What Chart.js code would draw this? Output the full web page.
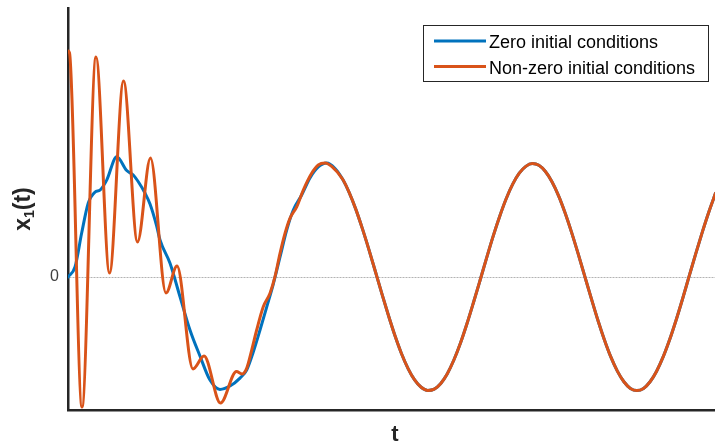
<!DOCTYPE html>
<html>
<head>
<meta charset="utf-8">
<title>x1(t) response</title>
<script src="https://cdn.jsdelivr.net/npm/chart.js@4.4.1/dist/chart.umd.min.js"></script>
<style>
  html, body { margin: 0; padding: 0; background: #ffffff; overflow: hidden; }
  #wrap { width: 722px; height: 443px; }
  canvas { display: block; }
</style>
</head>
<body>
<div id="wrap"><canvas id="plot" width="722" height="443"></canvas></div>
<script>
// Response x1(t) from zero and non-zero initial conditions.
// Start-up part of each run, sampled at its peaks, troughs and bends.
const tZero = [0, 0.107, 0.209, 0.310, 0.413, 0.489, 0.592, 0.745, 0.898, 0.998, 1.075,
  1.177, 1.254, 1.356, 1.407, 1.560, 1.713, 1.865, 2.018, 2.171, 2.324, 2.477, 2.630,
  2.732, 2.833, 2.936, 3.038, 3.139, 3.242, 3.344, 3.445, 3.573, 3.700, 3.827, 3.956,
  4.083];
const xZero = [0, 0.090, 0.397, 0.668, 0.767, 0.785, 0.875, 1.086, 0.961, 0.921, 0.860,
  0.758, 0.659, 0.460, 0.334, 0.124, -0.178, -0.478, -0.713, -0.930, -1.014, -0.984, -0.912,
  -0.839, -0.677, -0.478, -0.271, -0.063, 0.181, 0.424, 0.605, 0.740, 0.894, 0.993, 1.029,
  0.980];

const tNonZero = [0, 0.023, 0.214, 0.428, 0.635, 0.849, 1.063, 1.261, 1.498, 1.667, 1.911,
  2.080, 2.332, 2.576, 2.661, 2.732, 2.809, 2.885, 2.986, 3.089, 3.165, 3.242, 3.318,
  3.394, 3.497, 3.598, 3.726, 3.827, 3.930, 4.032];
const xNonZero = [2.040, 2.022, -1.173, 1.986, 0.036, 1.769, 0.316, 1.074, -0.144, 0.099, -0.830,
  -0.713, -1.137, -0.853, -0.875, -0.824, -0.659, -0.478, -0.268, -0.147, 0.003, 0.214, 0.394,
  0.530, 0.634, 0.785, 0.936, 1.011, 1.029, 0.998];

// Common steady oscillation reached by both runs.
const tSteady = [4.2, 4.3, 4.4, 4.5, 4.6, 4.7, 4.8, 4.9, 5.0, 5.1, 5.2, 5.3, 5.4, 5.5,
  5.6, 5.7, 5.8, 5.9, 6.0, 6.1, 6.2, 6.3, 6.4, 6.5, 6.6, 6.7, 6.8, 6.9, 7.0, 7.1,
  7.2, 7.3, 7.4, 7.5, 7.6, 7.7, 7.8, 7.9, 8.0, 8.1, 8.2, 8.3, 8.4, 8.5, 8.6, 8.7,
  8.8, 8.9, 9.0, 9.1, 9.2, 9.3, 9.4, 9.5, 9.6, 9.7, 9.8, 9.9];
const xSteady = [0.882, 0.762, 0.613, 0.439, 0.250, 0.050, -0.152, -0.347, -0.530, -0.692,
  -0.826, -0.929, -0.995, -1.023, -1.011, -0.960, -0.872, -0.749, -0.598, -0.422, -0.230,
  -0.031, 0.171, 0.367, 0.547, 0.707, 0.838, 0.937, 0.999, 1.024, 1.008, 0.952, 0.860,
  0.735, 0.580, 0.403, 0.211, 0.010, -0.190, -0.385, -0.563, -0.721, -0.849, -0.945,
  -1.005, -1.024, -1.005, -0.945, -0.850, -0.721, -0.564, -0.385, -0.191, 0.012, 0.214,
  0.408, 0.590, 0.755];

const yTicks = [0];
const seriesLabels = ['Zero initial conditions', 'Non-zero initial conditions'];
const seriesColors = ['#0072BD', '#D95319'];

const FONT = "'Liberation Sans', Arial, Helvetica, sans-serif";

function toPoints(ts, xs) {
  return ts.map((t, i) => ({ x: t, y: xs[i] }));
}
const steadyPts = toPoints(tSteady, xSteady);

// Axis titles (with subscript) and the boxed legend in the top-right corner.
const decorations = {
  id: 'decorations',
  afterDraw(chart) {
    const ctx = chart.ctx;
    const area = chart.chartArea;
    ctx.save();
    ctx.fillStyle = '#262626';
    ctx.textBaseline = 'alphabetic';

    // x-axis title
    ctx.font = 'bold 22px ' + FONT;
    ctx.textAlign = 'center';
    ctx.fillText('t', (area.left + area.right) / 2, 441);

    // y-axis title: x with subscript 1, then (t)
    const big = 'bold 23px ' + FONT;
    const small = 'bold 14px ' + FONT;
    ctx.font = big;
    const wx = ctx.measureText('x').width;
    const wt = ctx.measureText('(t)').width;
    ctx.font = small;
    const w1 = ctx.measureText('1').width;
    const total = wx + w1 + wt;
    ctx.translate(23, (area.top + area.bottom) / 2);
    ctx.rotate(-Math.PI / 2);
    ctx.textAlign = 'left';
    let cx = -total / 2;
    ctx.font = big;
    ctx.fillText('x', cx, 7);
    cx += wx;
    ctx.font = small;
    ctx.fillText('1', cx, 11);
    cx += w1;
    ctx.font = big;
    ctx.fillText('(t)', cx, 7);
    ctx.restore();

    // legend
    ctx.save();
    const bx = 423.5, by = 25.5, bw = 285, bh = 56;
    ctx.fillStyle = '#ffffff';
    ctx.fillRect(bx, by, bw, bh);
    ctx.strokeStyle = '#262626';
    ctx.lineWidth = 1;
    ctx.strokeRect(bx, by, bw, bh);
    ctx.font = '18px ' + FONT;
    ctx.textAlign = 'left';
    ctx.textBaseline = 'alphabetic';
    const rows = [41, 66.5];
    chart.data.datasets.forEach((ds, i) => {
      const y = rows[i];
      ctx.strokeStyle = ds.borderColor;
      ctx.lineWidth = 3;
      ctx.beginPath();
      ctx.moveTo(434, y);
      ctx.lineTo(486, y);
      ctx.stroke();
      ctx.fillStyle = '#000000';
      ctx.fillText(ds.label, 489, y + 7);
    });
    ctx.restore();
  }
};

new Chart(document.getElementById('plot'), {
  type: 'line',
  data: {
    datasets: [
      {
        label: seriesLabels[0],
        data: toPoints(tZero, xZero).concat(steadyPts),
        borderColor: seriesColors[0],
        borderWidth: 3,
        pointRadius: 0,
        fill: false,
        cubicInterpolationMode: 'monotone',
        borderJoinStyle: 'round',
        borderCapStyle: 'round',
        order: 1
      },
      {
        label: seriesLabels[1],
        data: toPoints(tNonZero, xNonZero).concat(steadyPts),
        borderColor: seriesColors[1],
        borderWidth: 3,
        pointRadius: 0,
        fill: false,
        cubicInterpolationMode: 'monotone',
        borderJoinStyle: 'round',
        borderCapStyle: 'round',
        order: 0
      }
    ]
  },
  options: {
    responsive: false,
    animation: false,
    devicePixelRatio: 1,
    events: [],
    layout: { padding: { top: 8, left: 0, right: 0, bottom: 0 } },
    plugins: { legend: { display: false }, tooltip: { enabled: false } },
    scales: {
      x: {
        type: 'linear',
        min: 0,
        max: 10,
        grid: { display: false },
        ticks: { display: false },
        border: { display: true, color: '#262626', width: 2.5 },
        afterFit(scale) {
          scale.height = 33;
          scale.paddingLeft = 0;
          scale.paddingRight = 0;
        }
      },
      y: {
        type: 'linear',
        min: -1.2,
        max: 2.428,
        afterBuildTicks(scale) { scale.ticks = yTicks.map(v => ({ value: v })); },
        ticks: {
          color: '#404040',
          font: { family: FONT, size: 16 },
          padding: 9,
          callback: v => String(v)
        },
        grid: { color: '#b3b3b3', lineWidth: 1, drawTicks: false },
        border: { display: true, color: '#262626', width: 2.5, dash: [2, 1] },
        afterFit(scale) {
          scale.width = 68;
          scale.paddingTop = 0;
          scale.paddingBottom = 0;
        }
      }
    }
  },
  plugins: [decorations]
});
</script>
</body>
</html>
